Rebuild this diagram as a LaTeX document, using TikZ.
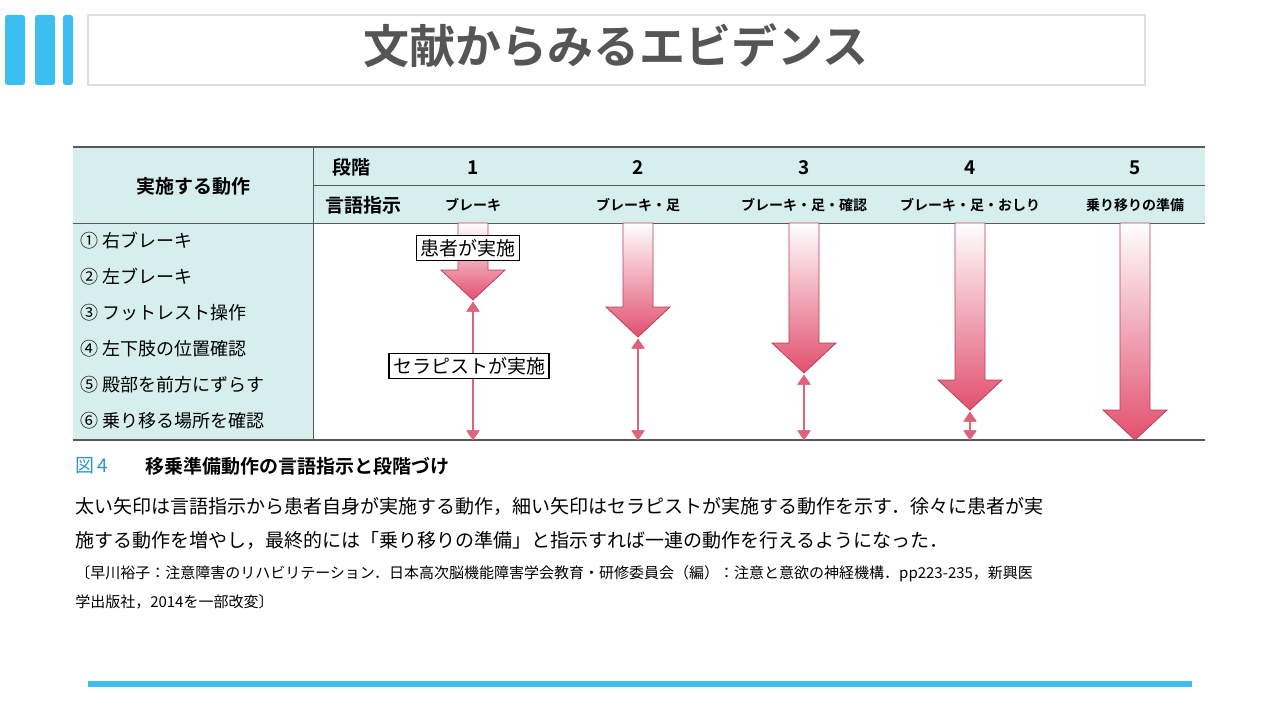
\documentclass[tikz,border=0pt]{standalone}
\usepackage{fontspec}
\setmainfont{Noto Sans CJK JP}
\newfontfamily\jpbold{Noto Sans CJK JP Bold}
\usetikzlibrary{arrows.meta}
\definecolor{barcyan}{RGB}{60,190,240}
\definecolor{cellcyan}{RGB}{214,238,238}
\definecolor{arrowpink}{RGB}{226,80,110}
\definecolor{thinpink}{RGB}{222,100,125}
\definecolor{titlegray}{RGB}{85,85,85}
\newcommand{\fpx}[1]{\fontsize{\fpeval{#1*0.75}pt}{\fpeval{#1*0.9}pt}\selectfont}
\newcommand{\fatarrow}[2]{%
  \shade[top color=white,bottom color=arrowpink,draw=arrowpink!80!black,line width=0.6pt]
    (#1-15,223) -- (#1+15,223) -- (#1+15,#2-30) -- (#1+32,#2-30) -- (#1,#2)
    -- (#1-32,#2-30) -- (#1-15,#2-30) -- cycle;}
\begin{document}
\begin{tikzpicture}[x=0.75pt,y=0.75pt,yscale=-1,xscale=1]
\tikzset{
  headtext/.style={font=\jpbold\fpx{19}},
  cell/.style={font=\fpx{18},anchor=west,inner sep=0pt},
  stagetext/.style={font=\jpbold\fpx{14}},
  tag/.style={draw,fill=white,font=\fpx{19},inner sep=3pt,line width=0.8pt},
  thinarrow/.style={thinpink,line width=2pt,{Triangle[width=9pt,length=7pt]}-{Triangle[width=9pt,length=7pt]}},
}
\useasboundingbox (0,0) rectangle (1280,720);
% header bars and title
\foreach \xa/\xb in {5/25,35/55,63/73}
  \fill[barcyan,rounded corners=2pt] (\xa,15) rectangle (\xb,85);
\draw[gray!25,line width=1.5pt,fill=white] (88,15) rectangle (1145,85);
\node[font=\jpbold\fpx{46},text=titlegray] (title) at (616,46) {文献からみるエビデンス};
% table
\fill[cellcyan] (73,147) rectangle (1205,223);
\fill[cellcyan] (73,223) rectangle (313,440);
\draw[gray!70!black,line width=1pt] (73,147) -- (1205,147);
\draw[gray!70!black,line width=1pt] (73,440) -- (1205,440);
\draw[gray!70!black] (313,185) -- (1205,185);
\draw[gray!70!black] (73,223) -- (1205,223);
\draw[gray!70!black] (313,147) -- (313,440);
\node[headtext] (actions) at (193,186) {実施する動作};
\node[headtext] (stage) at (351,167) {段階};
\node[headtext] (instr) at (363,205) {言語指示};
\foreach \x/\n/\w [count=\i] in {473/1/ブレーキ,638/2/ブレーキ・足,804/3/ブレーキ・足・確認,970/4/ブレーキ・足・おしり,1135/5/乗り移りの準備}{
  \node[headtext] (n\i) at (\x,168) {\n};
  \node[stagetext] (w\i) at (\x,205) {\w};
}
\foreach \t [count=\i] in {①\ 右ブレーキ,②\ 左ブレーキ,③\ フットレスト操作,④\ 左下肢の位置確認,⑤\ 殿部を前方にずらす,⑥\ 乗り移る場所を確認}
  \node[cell] (a\i) at (80,241+\i*36-36) {\t};
% arrows
\foreach \x/\tip in {473/300,638/337,804/373,970/410,1135/440}
  \fatarrow{\x}{\tip}
\foreach \x/\tip [count=\i] in {473/300,638/337,804/373,970/410}{
  \coordinate (s\i) at (\x,\tip+2);
  \coordinate (e\i) at (\x,440);
  \draw[thinarrow] (s\i) -- (e\i);
}
\node[tag] (patient) at (468,248) {患者が実施};
\node[tag] (therapist) at (469,366) {セラピストが実施};
% caption
\node[anchor=west,inner sep=0pt,font=\fpx{19},text=barcyan!80!black] (fig) at (75,466) {図\,4};
\node[anchor=west,inner sep=0pt,font=\jpbold\fpx{19}] (cap) at (145,466) {移乗準備動作の言語指示と段階づけ};
\node[anchor=west,inner sep=0pt,font=\fpx{19}] (l1) at (75,506) {太い矢印は言語指示から患者自身が実施する動作，細い矢印はセラピストが実施する動作を示す．徐々に患者が実};
\node[anchor=west,inner sep=0pt,font=\fpx{19}] (l2) at (75,540) {施する動作を増やし，最終的には「乗り移りの準備」と指示すれば一連の動作を行えるようになった．};
\node[anchor=west,inner sep=0pt,font=\fpx{15}] (r1) at (75,574) {〔早川裕子：注意障害のリハビリテーション．日本高次脳機能障害学会教育・研修委員会（編）：注意と意欲の神経機構．pp223-235，新興医};
\node[anchor=west,inner sep=0pt,font=\fpx{15}] (r2) at (75,602) {学出版社，2014を一部改変〕};
\draw[barcyan,line width=4pt] (88,684) -- (1192,684);
\end{tikzpicture}
\end{document}
